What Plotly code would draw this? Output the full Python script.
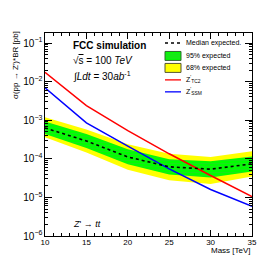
import plotly.graph_objects as go

mass = [10, 15, 20, 25, 30, 35]
median = [6.3e-4, 2.9e-4, 1.12e-4, 6.2e-5, 5.4e-5, 7.4e-5]
green_up = [9.3e-4, 4.4e-4, 1.78e-4, 9.8e-5, 8.7e-5, 1.15e-4]
green_lo = [4.4e-4, 1.9e-4, 7.2e-5, 3.9e-5, 3.3e-5, 4.7e-5]
yellow_up = [1.2e-3, 5.75e-4, 2.4e-4, 1.35e-4, 1.12e-4, 1.58e-4]
yellow_lo = [3.6e-4, 1.45e-4, 5.2e-5, 2.8e-5, 2.24e-5, 3.5e-5]
z_tc2 = [1.74e-2, 2.4e-3, 5.4e-4, 1.35e-4, 3.7e-5, 1.05e-5]
z_ssm = [6.9e-3, 8.5e-4, 2.14e-4, 5.5e-5, 1.6e-5, 5.9e-6]

legend_labels = ["Median expected.", "95% expected", "68% expected",
                 "Z<sup>'</sup><sub>TC2</sub>", "Z<sup>'</sup><sub>SSM</sub>"]

FONT = "Liberation Sans, Arial, sans-serif"
W, H = 266, 255
L, R, T, B = 37, 244, 25, 228.5


def px(xp):
    return (xp - L) / (R - L)


def py(yp):
    return (B - yp) / (B - T)


fig = go.Figure()
fig.add_trace(go.Scatter(
    x=mass + mass[::-1], y=yellow_up + yellow_lo[::-1], fill="toself", mode="lines",
    fillcolor="#ffff00", line=dict(color="#ffff00", width=0),
    name=legend_labels[2], hoverinfo="skip", showlegend=False))
fig.add_trace(go.Scatter(
    x=mass + mass[::-1], y=green_up + green_lo[::-1], fill="toself", mode="lines",
    fillcolor="#00ff00",
    fillpattern=dict(shape="-", bgcolor="#00ff00", fgcolor="#33cc33", size=3, solidity=0.35),
    line=dict(color="#00ff00", width=0),
    name=legend_labels[1], hoverinfo="skip", showlegend=False))
fig.add_trace(go.Scatter(x=mass, y=z_tc2, mode="lines", line=dict(color="#ff0000", width=1.5),
                         name=legend_labels[3], showlegend=False))
fig.add_trace(go.Scatter(x=mass, y=z_ssm, mode="lines", line=dict(color="#0000ff", width=1.5),
                         name=legend_labels[4], showlegend=False))
fig.add_trace(go.Scatter(x=mass, y=median, mode="lines", line=dict(color="black", width=1.6, dash="dot"),
                         name=legend_labels[0], showlegend=False))

axis_common = dict(showline=True, linecolor="black", linewidth=1, mirror="allticks",
                   ticks="inside", tickcolor="black", showgrid=False, zeroline=False,
                   tickfont=dict(family=FONT, size=8, color="black"))

fig.update_xaxes(range=[10, 35], dtick=5, tick0=10, ticklen=6, ticklabelstandoff=-2,
                 minor=dict(dtick=1, ticks="inside", ticklen=3, tickcolor="black"),
                 **axis_common)
fig.update_yaxes(type="log", range=[-6, -0.74], dtick=1, ticklen=7, exponentformat="power",
                 minor=dict(dtick="D1", ticks="inside", ticklen=3, tickcolor="black"),
                 **axis_common)

ann = [
    dict(text="<b>FCC simulation</b>", x=63, y=38, size=10),
    dict(text="√<span style='text-decoration:overline'>s</span> = 100 <i>TeV</i>", x=63, y=53, size=10),
    dict(text="∫<i>Ldt</i> = 30<i>ab</i><sup>-1</sup>", x=63, y=68, size=10),
    dict(text="<i>Z</i>' → <i>tt</i>", x=63, y=216, size=9),
]
annotations = []
for a in ann:
    annotations.append(dict(text=a["text"], xref="paper", yref="paper", x=px(a["x"]), y=py(a["y"]),
                            xanchor="left", yanchor="middle", showarrow=False,
                            font=dict(family=FONT, size=a["size"], color="black")))
annotations.append(dict(text="Mass [TeV]", xref="paper", yref="paper", x=px(245), y=py(243),
                        xanchor="right", yanchor="middle", showarrow=False,
                        font=dict(family=FONT, size=8, color="black")))
annotations.append(dict(text="σ(pp → Z')*BR [pb]", xref="paper", yref="paper", x=px(7), y=py(21),
                        xanchor="center", yanchor="top", textangle=-90, showarrow=False,
                        font=dict(family=FONT, size=8, color="black")))

# manual legend
leg_y = [35, 48, 60, 72, 84]
sx0, sx1, tx = 157, 173, 176
shapes = []
shapes.append(dict(type="line", xref="paper", yref="paper", x0=px(sx0), x1=px(sx1),
                   y0=py(leg_y[0]), y1=py(leg_y[0]), line=dict(color="black", width=1.3, dash="dot")))
shapes.append(dict(type="rect", xref="paper", yref="paper", x0=px(sx0), x1=px(sx1),
                   y0=py(leg_y[1] - 4.5), y1=py(leg_y[1] + 4.5), fillcolor="#00ff00",
                   line=dict(color="#336633", width=1)))
for dy in (-2, 0, 2):
    shapes.append(dict(type="line", xref="paper", yref="paper", x0=px(sx0 + 1), x1=px(sx1 - 1),
                       y0=py(leg_y[1] + dy), y1=py(leg_y[1] + dy), line=dict(color="#33cc33", width=0.8)))
shapes.append(dict(type="rect", xref="paper", yref="paper", x0=px(sx0), x1=px(sx1),
                   y0=py(leg_y[2] - 4.5), y1=py(leg_y[2] + 4.5), fillcolor="#ffff00",
                   line=dict(color="#555533", width=1)))
shapes.append(dict(type="line", xref="paper", yref="paper", x0=px(sx0), x1=px(sx1),
                   y0=py(leg_y[3]), y1=py(leg_y[3]), line=dict(color="#ff0000", width=1.3)))
shapes.append(dict(type="line", xref="paper", yref="paper", x0=px(sx0), x1=px(sx1),
                   y0=py(leg_y[4]), y1=py(leg_y[4]), line=dict(color="#0000ff", width=1.3)))
for lab, yy in zip(legend_labels, leg_y):
    annotations.append(dict(text=lab, xref="paper", yref="paper", x=px(tx), y=py(yy),
                            xanchor="left", yanchor="middle", showarrow=False,
                            font=dict(family=FONT, size=7, color="black")))

fig.update_layout(
    width=W, height=H, margin=dict(l=L, r=W - R, t=T, b=H - B),
    paper_bgcolor="white", plot_bgcolor="white",
    showlegend=False,
    annotations=annotations, shapes=shapes,
)
fig.write_html("out.html")
